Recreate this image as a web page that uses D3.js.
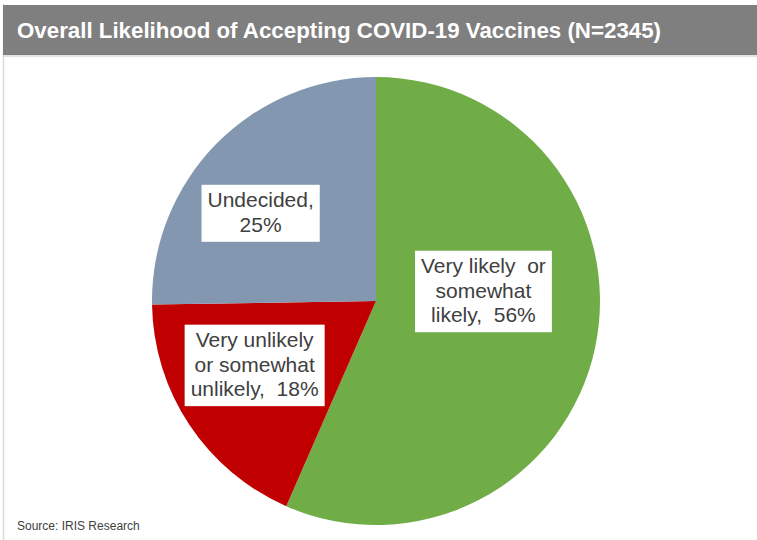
<!DOCTYPE html>
<html>
<head>
<meta charset="utf-8">
<script src="https://cdn.jsdelivr.net/npm/d3@7"></script>
<style>
  body { margin: 0; background: #fff; }
  text { font-family: "Liberation Sans", Arial, sans-serif; }
</style>
</head>
<body>
<div id="chart1"></div>
<script>
// chart values
let categories = ["Very likely or somewhat likely", "Very unlikely or somewhat unlikely", "Undecided"];
let values = [56, 18, 25];
let labelLines = [
    ["Very likely  or", "somewhat", "likely,  56%"],
    ["Very unlikely", "or somewhat", "unlikely,  18%"],
    ["Undecided,", "25%"]
];
let colors = ["#70ad47", "#c00000", "#8497b0"];
let title = "Overall Likelihood of Accepting COVID-19 Vaccines (N=2345)";
let source = "Source: IRIS Research";

let width = 757;
let height = 540;
let cx = 376;
let cy = 301;
let radius = 224;

// label placement: fraction of radius along slice mid angle, plus nudges
let labelRadius = [0.49, 0.64, 0.66];
let labelNudge = [[0, -32], [-2, -15], [-10, 16]];
let lineHeight = 24.5;

let svg = d3.select("#chart1")
    .append("svg")
    .attr("width", width)
    .attr("height", height);

// frame + title bar
svg.append("line")
    .attr("x1", 3.5).attr("x2", 3.5)
    .attr("y1", 4).attr("y2", height)
    .style("stroke", "#d9d9d9")
    .style("stroke-width", 1.5);

svg.append("rect")
    .attr("x", 3).attr("y", 5)
    .attr("width", width - 3).attr("height", 50)
    .style("fill", "#7f7f7f");

svg.append("line")
    .attr("x1", 3).attr("x2", width)
    .attr("y1", 56).attr("y2", 56)
    .style("stroke", "#d9d9d9")
    .style("stroke-width", 1.5);

svg.append("text")
    .attr("x", 17)
    .attr("y", 38)
    .attr("textLength", 644)
    .attr("lengthAdjust", "spacingAndGlyphs")
    .style("fill", "#ffffff")
    .style("font-size", "22px")
    .style("font-weight", "bold")
    .text(title);

// pie
let pie = d3.pie().sort(null).value((d) => d);
let arc = d3.arc().innerRadius(0).outerRadius(radius);
let arcs = pie(values);

let g = svg.append("g")
    .attr("transform", "translate(" + cx + "," + cy + ")");

g.selectAll("path")
    .data(arcs)
    .enter().append("path")
    .attr("d", arc)
    .style("fill", (d, i) => colors[i])
    .style("stroke", "none");

// labels
arcs.forEach(function (d, i) {
    let la = d3.arc().innerRadius(0).outerRadius(2 * radius * labelRadius[i]);
    let c = la.centroid(d);
    let x = c[0] + labelNudge[i][0];
    let y = c[1] + labelNudge[i][1];
    let lines = labelLines[i];

    let lg = g.append("g").attr("transform", "translate(" + x + "," + y + ")");
    let box = lg.append("rect").style("fill", "#ffffff");
    let txt = lg.append("text")
        .attr("text-anchor", "middle")
        .style("fill", "#404040")
        .style("font-size", "21px")
        .style("white-space", "pre");

    let top = -(lines.length * lineHeight) / 2;
    lines.forEach(function (l, j) {
        txt.append("tspan")
            .attr("x", 0)
            .attr("y", top + (j + 1) * lineHeight - 6)
            .text(l);
    });

    let bb = txt.node().getBBox();
    box.attr("x", bb.x - 6)
        .attr("y", top - 4)
        .attr("width", bb.width + 12)
        .attr("height", lines.length * lineHeight + 8);
});

svg.append("text")
    .attr("x", 17)
    .attr("y", 530)
    .style("fill", "#404040")
    .style("font-size", "12px")
    .text(source);
</script>
</body>
</html>
